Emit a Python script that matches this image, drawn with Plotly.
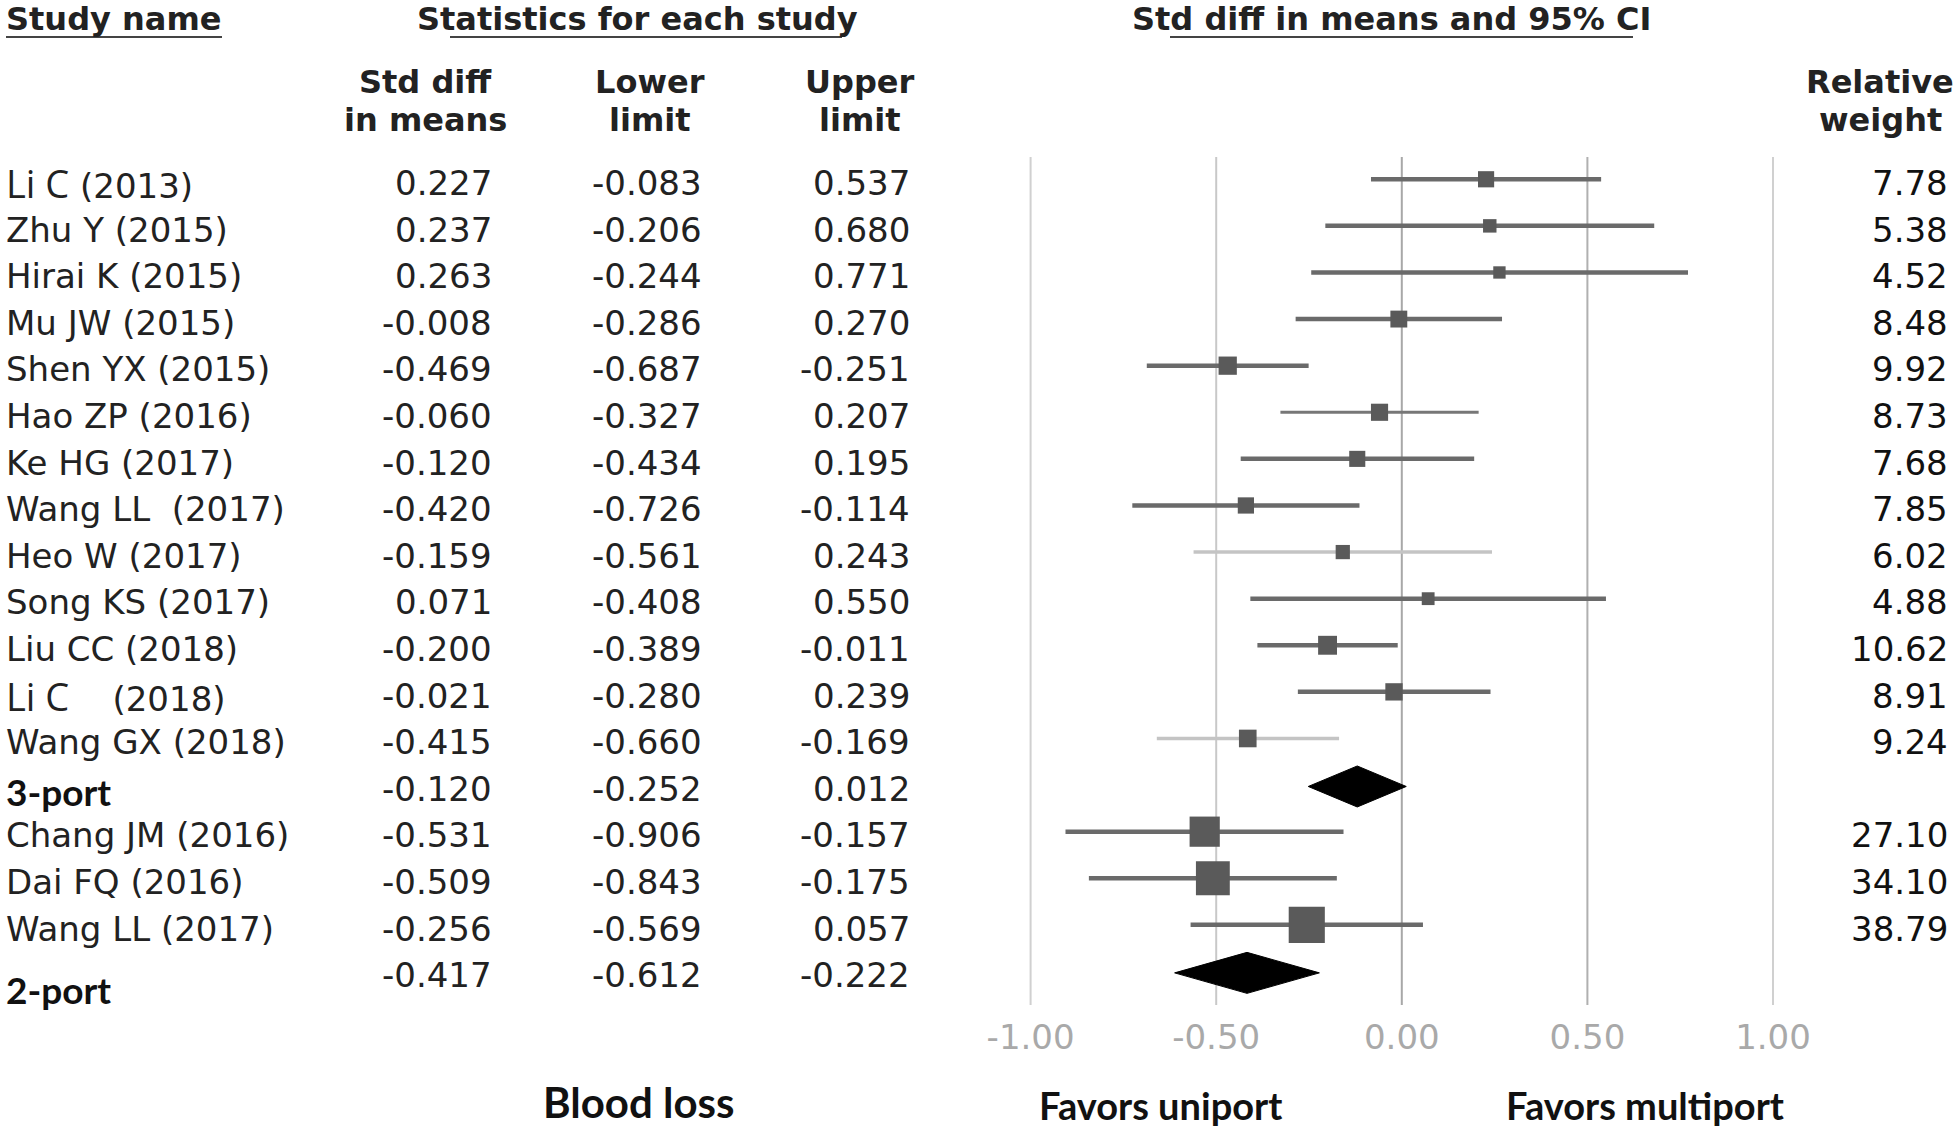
import math
import plotly.graph_objects as go

# ---------------- data ----------------
study_names = ["Li C (2013)", "Zhu Y (2015)", "Hirai K (2015)", "Mu JW (2015)", "Shen YX (2015)",
               "Hao ZP (2016)", "Ke HG (2017)", "Wang LL  (2017)", "Heo W (2017)", "Song KS (2017)",
               "Liu CC (2018)", "Li C    (2018)", "Wang GX (2018)", "3-port",
               "Chang JM (2016)", "Dai FQ (2016)", "Wang LL (2017)", "2-port"]
std_diff = [0.227, 0.237, 0.263, -0.008, -0.469, -0.060, -0.120, -0.420, -0.159, 0.071,
            -0.200, -0.021, -0.415, -0.120, -0.531, -0.509, -0.256, -0.417]
lower_limit = [-0.083, -0.206, -0.244, -0.286, -0.687, -0.327, -0.434, -0.726, -0.561, -0.408,
               -0.389, -0.280, -0.660, -0.252, -0.906, -0.843, -0.569, -0.612]
upper_limit = [0.537, 0.680, 0.771, 0.270, -0.251, 0.207, 0.195, -0.114, 0.243, 0.550,
               -0.011, 0.239, -0.169, 0.012, -0.157, -0.175, 0.057, -0.222]
rel_weight = [7.78, 5.38, 4.52, 8.48, 9.92, 8.73, 7.68, 7.85, 6.02, 4.88,
              10.62, 8.91, 9.24, None, 27.10, 34.10, 38.79, None]
is_summary = [False] * 13 + [True] + [False] * 3 + [True]
tick_vals = [-1.0, -0.5, 0.0, 0.5, 1.0]
tick_text = ["-1.00", "-0.50", "0.00", "0.50", "1.00"]

# ---------------- styles ----------------
W, H = 1960, 1130
grid_colors = ["#d0d0d0", "#c8c8c8", "#a8a8a8", "#b0b0b0", "#d0d0d0"]
line_colors = ["#6a6a6a"] * 18
line_widths = [4.5] * 18
line_colors[5] = "#777777"; line_widths[5] = 3
line_colors[8] = "#c4c4c4"; line_widths[8] = 3.5
line_colors[12] = "#c4c4c4"; line_widths[12] = 3.5
marker_color = "#5a5a5a"
TXT = "DejaVu Sans, Liberation Sans, Arial, sans-serif"
BOLD2 = "Lato, Open Sans, sans-serif"
ROWSIZE = 34
HDRSIZE = 32

px_per_unit = (1773 - 1030.6) / 2.0
x_left = -1 - 1030.6 / px_per_unit
x_right = 1 + (W - 1773) / px_per_unit
row0_px, row_step = 183.0, 46.6
top_px, bot_px = 157.0, 1005.0
y_top = (top_px - row0_px) / row_step
y_bot = (bot_px - row0_px) / row_step

def py(px):
    return 1 - px / H

def pxx(px):
    return px / W

fig = go.Figure()
rows = list(range(len(study_names)))

# CI lines and squares
for r in rows:
    if is_summary[r]:
        continue
    fig.add_trace(go.Scatter(x=[lower_limit[r], upper_limit[r]], y=[r - 0.08, r - 0.08], mode="lines",
                             line=dict(color=line_colors[r], width=line_widths[r]),
                             showlegend=False, hoverinfo="skip"))
sq_rows = [r for r in rows if not is_summary[r]]
fig.add_trace(go.Scatter(x=[std_diff[r] for r in sq_rows], y=[r - 0.08 for r in sq_rows], mode="markers",
                         marker=dict(symbol="square", color=marker_color, opacity=1,
                                     size=[5.8 * math.sqrt(rel_weight[r]) for r in sq_rows],
                                     line=dict(width=0)),
                         showlegend=False, hoverinfo="skip"))
# diamonds
for r in rows:
    if not is_summary[r]:
        continue
    h = 0.44
    fig.add_trace(go.Scatter(x=[lower_limit[r], std_diff[r], upper_limit[r], std_diff[r], lower_limit[r]],
                             y=[r - 0.05, r - 0.05 - h, r - 0.05, r - 0.05 + h, r - 0.05], mode="lines",
                             fill="toself", fillcolor="black", line=dict(color="black", width=1),
                             showlegend=False, hoverinfo="skip"))

# gridlines
for tv, gc in zip(tick_vals, grid_colors):
    fig.add_shape(type="line", xref="x", yref="y domain", x0=tv, x1=tv, y0=0, y1=1,
                  line=dict(color=gc, width=2), layer="below")

ann = []
def A(text, x, y, xanchor="left", size=ROWSIZE, family=TXT, color="#222222", yref="paper", yanchor="middle"):
    ann.append(dict(text=text, x=x, y=y, xref="paper", yref=yref, xanchor=xanchor, yanchor=yanchor,
                    showarrow=False, font=dict(size=size, family=family, color=color)))

# table rows
for r in rows:
    name = study_names[r]
    if is_summary[r]:
        yy = r + (0.3 if r == len(rows) - 1 else 0.05)
        A("<b>" + name + "</b>", pxx(4), yy, size=37, family=BOLD2, color="#111", yref="y")
    else:
        label = name.replace("  ", "&nbsp;&nbsp;")
        if name.startswith("Li C"):
            rest = name[4:].replace(" ", "&nbsp;")
            label = "<span style=\"font-family:'Open Sans';font-size:38px\">Li C</span>" + rest
        A(label, pxx(4), r, yref="y")
    A(f"{std_diff[r]:.3f}", pxx(494), r, xanchor="right", yref="y")
    A(f"{lower_limit[r]:.3f}", pxx(704), r, xanchor="right", yref="y")
    A(f"{upper_limit[r]:.3f}", pxx(912), r, xanchor="right", yref="y")
    if rel_weight[r] is not None:
        A(f"{rel_weight[r]:.2f}", pxx(1950), r, xanchor="right", yref="y", color="#111")

# headers
A("<b>Study name</b>", pxx(4), py(19), size=HDRSIZE)
A("<b>Statistics for each study</b>", pxx(637), py(19), xanchor="center", size=HDRSIZE)
A("<b>Std diff in means and 95% CI</b>", pxx(1391), py(19), xanchor="center", size=HDRSIZE)
A("<b>Std diff</b>", pxx(425), py(82), xanchor="center", size=HDRSIZE)
A("<b>in means</b>", pxx(425), py(120), xanchor="center", size=HDRSIZE)
A("<b>Lower</b>", pxx(650), py(82), xanchor="center", size=HDRSIZE)
A("<b>limit</b>", pxx(650), py(120), xanchor="center", size=HDRSIZE)
A("<b>Upper</b>", pxx(860), py(82), xanchor="center", size=HDRSIZE)
A("<b>limit</b>", pxx(860), py(120), xanchor="center", size=HDRSIZE)
A("<b>Relative</b>", pxx(1880), py(82), xanchor="center", size=HDRSIZE)
A("<b>weight</b>", pxx(1880), py(120), xanchor="center", size=HDRSIZE)
# underlines
for x0, x1 in [(6, 222), (450, 842), (1170, 1633)]:
    fig.add_shape(type="line", xref="paper", yref="paper", x0=pxx(x0), x1=pxx(x1), y0=py(37), y1=py(37),
                  line=dict(color="#444", width=2))

# bottom labels
A("<b>Blood loss</b>", pxx(639), py(1102), xanchor="center", size=42, family=BOLD2, color="#111")
A("<b>Favors uniport</b>", pxx(1160), py(1105), xanchor="center", size=38, family=BOLD2, color="#111")
A("<b>Favors multiport</b>", pxx(1645), py(1105), xanchor="center", size=38, family=BOLD2, color="#111")

fig.update_layout(
    width=W, height=H, margin=dict(l=0, r=0, t=0, b=0),
    paper_bgcolor="white", plot_bgcolor="white",
    annotations=ann, showlegend=False,
    xaxis=dict(range=[x_left, x_right], domain=[0, 1], showgrid=False, zeroline=False, showline=False,
               tickvals=tick_vals, ticktext=tick_text, ticks="outside", ticklen=2, tickcolor="rgba(0,0,0,0)",
               tickfont=dict(size=34, family=TXT, color="#a9a9a9"), fixedrange=True),
    yaxis=dict(range=[y_bot, y_top], domain=[py(bot_px), py(top_px)], showgrid=False, zeroline=False,
               showline=False, showticklabels=False, fixedrange=True),
)
fig.write_html("out.html", config={"displayModeBar": False},
               post_script="document.body.style.margin='0';document.body.style.overflow='hidden';")
